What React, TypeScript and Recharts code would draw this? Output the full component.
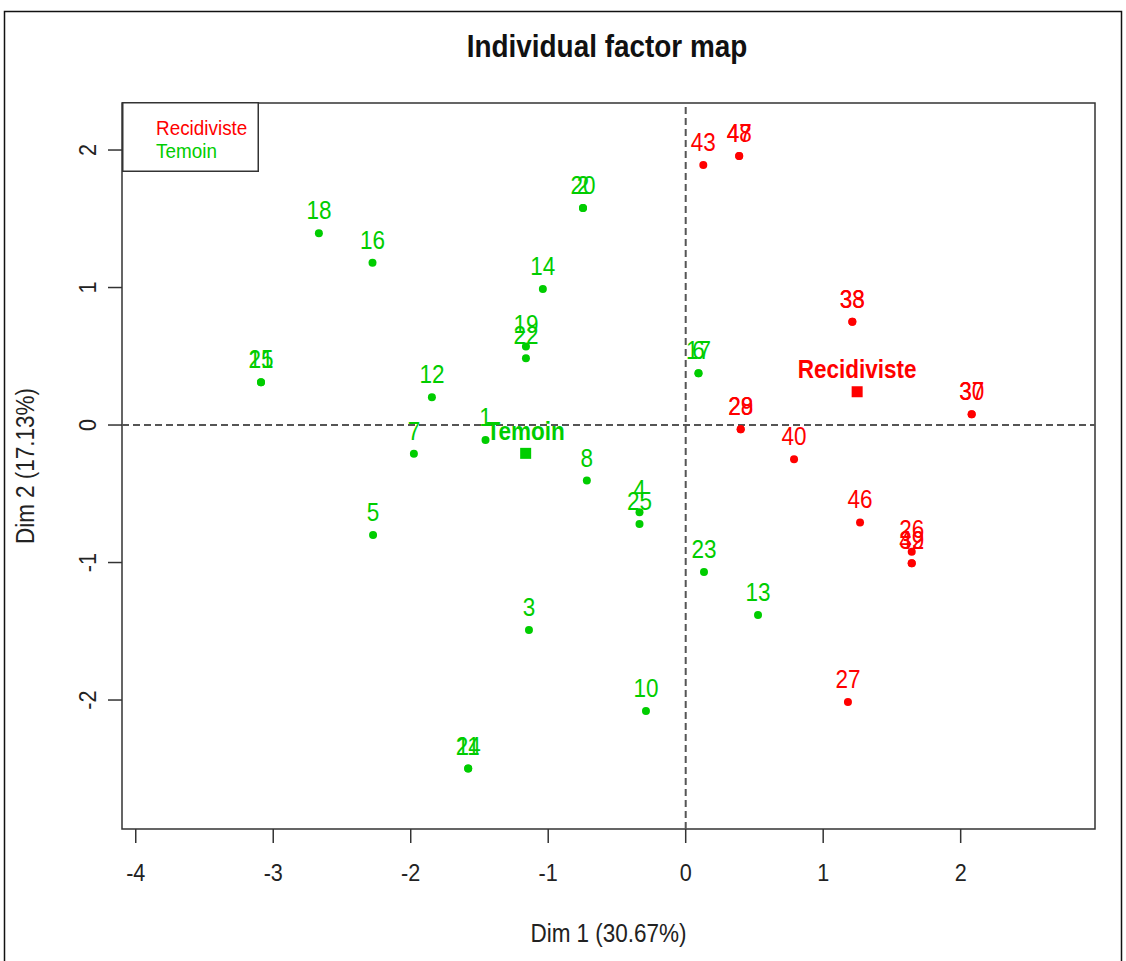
import React from 'react';
import {
  ScatterChart,
  Scatter,
  XAxis,
  YAxis,
  ReferenceLine,
  ReferenceArea,
} from 'recharts';

// ---------- data ----------
const temoinIds = ['1', '15', '21', '18', '16', '12', '7', '19', '22', '14', '2', '20', '6', '17', '8', '4', '25', '5', '3', '10', '23', '13', '11', '24'];
const temoinDim1 = [-1.456, -3.089, -3.089, -2.668, -2.278, -1.846, -1.977, -1.162, -1.162, -1.039, -0.747, -0.747, 0.093, 0.093, -0.719, -0.336, -0.336, -2.274, -1.14, -0.289, 0.133, 0.526, -1.582, -1.582];
const temoinDim2 = [-0.108, 0.311, 0.311, 1.395, 1.18, 0.202, -0.209, 0.571, 0.486, 0.989, 1.578, 1.578, 0.377, 0.377, -0.404, -0.634, -0.719, -0.8, -1.491, -2.08, -1.069, -1.382, -2.498, -2.498];

const recidIds = ['43', '47', '48', '33', '38', '30', '37', '40', '28', '29', '46', '26', '39', '42', '27'];
const recidDim1 = [0.128, 0.389, 0.389, 1.212, 1.212, 2.08, 2.08, 0.788, 0.4, 0.4, 1.268, 1.644, 1.644, 1.644, 1.18];
const recidDim2 = [1.891, 1.956, 1.956, 0.751, 0.751, 0.078, 0.078, -0.249, -0.031, -0.031, -0.708, -0.921, -1.006, -1.006, -2.015];

const groupNames = ['Temoin', 'Recidiviste'];
const groupDim1 = [-1.164, 1.247];
const groupDim2 = [-0.206, 0.242];

const legendNames = ['Recidiviste', 'Temoin'];

const xTicks = [-4, -3, -2, -1, 0, 1, 2];
const yTicks = [-2, -1, 0, 1, 2];
const xDomain = [-4.1, 2.977];
const yDomain = [-2.938, 2.342];

const GREEN = '#00CD00';
const RED = '#FF0000';
const FONT = '"Liberation Sans", Arial, sans-serif';

const temoinData = temoinIds.map((id, i) => ({ x: temoinDim1[i], y: temoinDim2[i], label: id }));
const recidData = recidIds.map((id, i) => ({ x: recidDim1[i], y: recidDim2[i], label: id }));
const temoinCentroid = [{ x: groupDim1[0], y: groupDim2[0], label: groupNames[0] }];
const recidCentroid = [{ x: groupDim1[1], y: groupDim2[1], label: groupNames[1] }];

// ---------- helpers ----------
const T = ({ x, y, size, color = '#222', bold = false, anchor = 'middle', rotate = 0, children }: any) => (
  <text
    transform={`translate(${x},${y})${rotate ? ` rotate(${rotate})` : ''} scale(0.9,1)`}
    textAnchor={anchor}
    fontSize={size}
    fontFamily={FONT}
    fontWeight={bold ? 'bold' : 'normal'}
    fill={color}
  >
    {children}
  </text>
);

const pointShape = (color: string) => (props: any) => {
  const { cx, cy, payload } = props;
  return (
    <g>
      <circle cx={cx} cy={cy} r={4} fill={color} />
      <T x={cx} y={cy - 14} size={25} color={color}>
        {payload.label}
      </T>
    </g>
  );
};

const centroidShape = (color: string, off: number) => (props: any) => {
  const { cx, cy, payload } = props;
  return (
    <g>
      <rect x={cx - 5.5} y={cy - 5.5} width={11} height={11} fill={color} />
      <T x={cx} y={cy - off} size={25} color={color} bold>
        {payload.label}
      </T>
    </g>
  );
};

const XTick = (props: any) => {
  const { x, y, payload } = props;
  return (
    <T x={x} y={y + 36} size={24}>
      {payload.value}
    </T>
  );
};

const YTick = (props: any) => {
  const { x, y, payload } = props;
  return (
    <T x={x - 10} y={y} size={24} rotate={-90}>
      {payload.value}
    </T>
  );
};

export default function App() {
  return (
    <div style={{ position: 'absolute', left: 0, top: 0, width: 1126, height: 961, background: '#fff' }}>
      <ScatterChart width={1126} height={961} margin={{ top: 103, right: 31, bottom: 0, left: 0 }}>
        <XAxis
          type="number"
          dataKey="x"
          domain={xDomain}
          ticks={xTicks}
          interval={0}
          allowDataOverflow
          height={132}
          tickSize={14}
          tickLine={{ stroke: '#333', strokeWidth: 1.5 }}
          axisLine={false}
          tick={<XTick />}
          label={{
            content: (p: any) => {
              const vb = p.viewBox;
              return (
                <T x={vb.x + vb.width / 2} y={vb.y + 113} size={25}>
                  Dim 1 (30.67%)
                </T>
              );
            },
          }}
        />
        <YAxis
          type="number"
          dataKey="y"
          domain={yDomain}
          ticks={yTicks}
          interval={0}
          allowDataOverflow
          width={122}
          tickSize={14}
          tickLine={{ stroke: '#333', strokeWidth: 1.5 }}
          axisLine={false}
          tick={<YTick />}
          label={{
            content: (p: any) => {
              const vb = p.viewBox;
              return (
                <T x={vb.x + 34} y={vb.y + vb.height / 2} size={25} rotate={-90}>
                  Dim 2 (17.13%)
                </T>
              );
            },
          }}
        />
        <ReferenceArea
          x1={xDomain[0]}
          x2={xDomain[1]}
          y1={yDomain[0]}
          y2={yDomain[1]}
          fill="none"
          fillOpacity={0}
          stroke="#333"
          strokeWidth={1.5}
          ifOverflow="visible"
        />
        <ReferenceLine x={0} stroke="#555" strokeWidth={2} strokeDasharray="7 4" />
        <ReferenceLine y={0} stroke="#555" strokeWidth={2} strokeDasharray="7 4" />
        <Scatter name="Temoin" data={temoinData} fill={GREEN} shape={pointShape(GREEN)} isAnimationActive={false} />
        <Scatter name="Recidiviste" data={recidData} fill={RED} shape={pointShape(RED)} isAnimationActive={false} />
        <Scatter data={temoinCentroid} fill={GREEN} shape={centroidShape(GREEN, 13)} isAnimationActive={false} legendType="none" />
        <Scatter data={recidCentroid} fill={RED} shape={centroidShape(RED, 14)} isAnimationActive={false} legendType="none" />
      </ScatterChart>
      <svg width={1126} height={961} style={{ position: 'absolute', left: 0, top: 0, pointerEvents: 'none' }}>
        <rect x={4.5} y={11.5} width={1117} height={1000} fill="none" stroke="#111" strokeWidth={1.5} />
        <T x={607} y={57} size={31} color="#111" bold>
          Individual factor map
        </T>
        <g transform="translate(122,102)">
          <rect x={0.75} y={0.75} width={135.5} height={68.5} fill="#fff" stroke="#333" strokeWidth={1.5} />
          <T x={34} y={33} size={21} color={RED} anchor="start">{legendNames[0]}</T>
          <T x={34} y={56} size={21} color={GREEN} anchor="start">{legendNames[1]}</T>
        </g>
      </svg>
    </div>
  );
}
